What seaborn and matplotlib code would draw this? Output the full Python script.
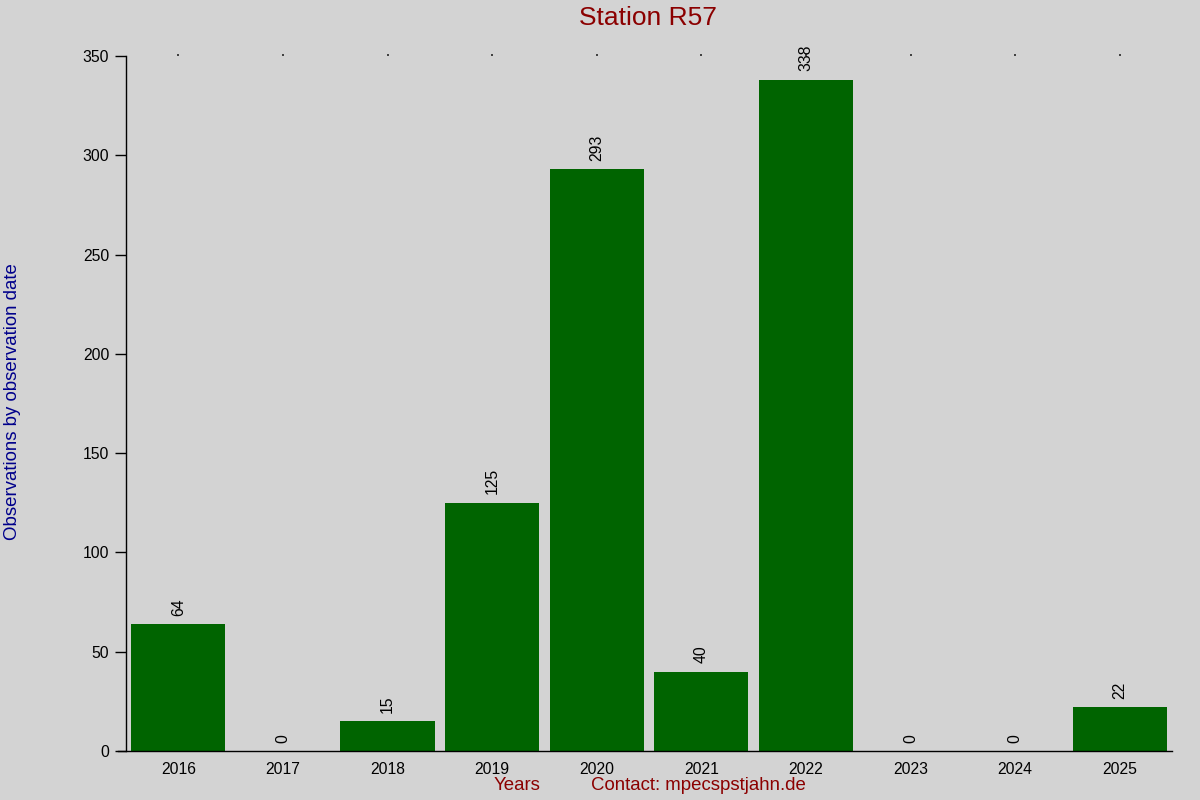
import pandas as pd
import matplotlib.pyplot as plt
import seaborn as sns

sns.set_theme(style="ticks")
plt.rcParams["font.family"] = ["Liberation Sans", "DejaVu Sans"]

years = ["2016", "2017", "2018", "2019", "2020", "2021", "2022", "2023", "2024", "2025"]
observations = [64, 0, 15, 125, 293, 40, 338, 0, 0, 22]

BG = "#d3d3d3"
df = pd.DataFrame({"year": years, "obs": observations})

fig = plt.figure(figsize=(12, 8), dpi=100, facecolor=BG)
ax = fig.add_axes([0.105, 0.06125, 0.8717, 0.86875])
ax.set_facecolor(BG)

sns.barplot(data=df, x="year", y="obs", color="#006400", width=0.9,
            saturation=1, linewidth=0, edgecolor="none", ax=ax)

for i, v in enumerate(observations):
    ax.annotate(str(v), (i, v), xytext=(0, 6), textcoords="offset points",
                rotation=90, ha="center", va="bottom", fontsize=11.3, color="black")

ax.set_xlim(-0.5, len(years) - 0.5)
ax.set_ylim(0, 350)
ax.set_yticks(range(0, 351, 50))
ax.set_xlabel("")
ax.set_ylabel("")

for s in ["top", "right"]:
    ax.spines[s].set_visible(False)
for s in ["left", "bottom"]:
    ax.spines[s].set_color("black")
    ax.spines[s].set_linewidth(1)
ax.spines["bottom"].set_bounds(-0.58, len(years) - 0.5)
ax.spines["left"].set_bounds(0, 350)

ax.tick_params(axis="y", length=8, width=1, color="black", labelsize=11.3,
               labelcolor="black", pad=4)
ax.tick_params(axis="x", bottom=True, top=True, length=0, labelsize=11.3,
               labelcolor="black", pad=8)
# tiny dots along the top edge at each year
for t in ax.xaxis.get_major_ticks():
    t.tick2line.set_markersize(1.2)
    t.tick2line.set_markeredgewidth(1.2)
    t.tick2line.set_color("black")

fig.text(0.54, 0.9775, "Station R57", ha="center", va="center",
         fontsize=19, color="#8b0000")
fig.text(0.0105, 0.4975, "Observations by observation date", rotation=90,
         ha="center", va="center", fontsize=13.4, color="#00008b")
fig.text(0.431, 0.0175, "Years", ha="center", va="center",
         fontsize=13.4, color="#8b0000")
fig.text(0.5817, 0.0175, "Contact: mpecspstjahn.de", ha="center", va="center",
         fontsize=13.4, color="#8b0000")

fig.savefig("out.png", dpi=100, facecolor=BG)
